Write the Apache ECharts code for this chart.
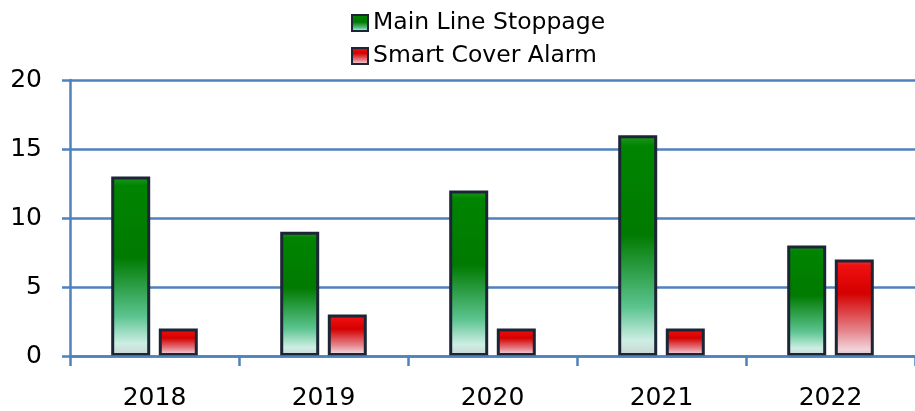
<!DOCTYPE html>
<html>
<head>
<meta charset="utf-8">
<script src="https://cdn.jsdelivr.net/npm/echarts@6/dist/echarts.min.js"></script>
<style>
html,body{margin:0;padding:0;background:#fff;}
#chart{width:915px;height:411px;}
</style>
</head>
<body>
<div id="chart"></div>
<script>
const categories = ['2018', '2019', '2020', '2021', '2022'];
const seriesNames = ['Main Line Stoppage', 'Smart Cover Alarm'];
const mainLineStoppage = [13, 9, 12, 16, 8];
const smartCoverAlarm = [2, 3, 2, 2, 7];
const yTicks = [0, 5, 10, 15, 20];

const axisBlue = '#4f81bd';
const borderDark = '#1c2535';

function grad(stops) {
  return {
    type: 'linear', x: 0, y: 0, x2: 0, y2: 1,
    colorStops: stops.map(s => ({ offset: s[0], color: s[1] }))
  };
}
const greenFill = grad([[0, '#1f9a1f'], [0.05, '#008400'], [0.45, '#007a00'], [0.78, '#5cc490'], [0.93, '#cdeee4'], [1, '#c8d4d0']]);
const redFill = grad([[0, '#ff4040'], [0.06, '#f01010'], [0.35, '#d40000'], [0.75, '#e68890'], [0.93, '#f2d2d8'], [1, '#d8c4c8']]);

const chart = echarts.init(document.getElementById('chart'), null, { renderer: 'canvas' });
chart.setOption({
  animation: false,
  backgroundColor: '#ffffff',
  legend: {
    orient: 'vertical',
    left: 346,
    top: 6,
    itemWidth: 16,
    itemHeight: 16,
    itemGap: 9,
    icon: 'rect',
    textStyle: { fontFamily: 'DejaVu Sans', fontSize: 23.5, color: '#000', lineHeight: 23 },
    itemStyle: { borderWidth: 2, borderColor: borderDark },
    data: seriesNames
  },
  grid: { left: 70, width: 849, top: 80, bottom: 55, containLabel: false },
  xAxis: {
    type: 'category',
    data: categories,
    axisLine: { show: true, lineStyle: { color: axisBlue, width: 2.5 } },
    axisTick: { show: true, length: 10, lineStyle: { color: axisBlue, width: 2.5 } },
    axisLabel: { fontFamily: 'DejaVu Sans', fontSize: 25, color: '#000', margin: 30 },
    z: 5
  },
  yAxis: {
    type: 'value',
    min: yTicks[0],
    max: yTicks[yTicks.length - 1],
    interval: yTicks[1] - yTicks[0],
    axisLine: { show: true, lineStyle: { color: axisBlue, width: 2.5 } },
    axisTick: { show: true, length: 8, lineStyle: { color: axisBlue, width: 2.5 } },
    splitLine: { show: true, lineStyle: { color: axisBlue, width: 2.5 } },
    axisLabel: { fontFamily: 'DejaVu Sans', fontSize: 25, color: '#000', margin: 28 }
  },
  series: [
    {
      name: seriesNames[0],
      type: 'bar',
      data: mainLineStoppage,
      barWidth: 39,
      barGap: '22%',
      itemStyle: { color: greenFill, borderColor: borderDark, borderWidth: 3 }
    },
    {
      name: seriesNames[1],
      type: 'bar',
      data: smartCoverAlarm,
      barWidth: 39,
      barGap: '22%',
      itemStyle: { color: redFill, borderColor: borderDark, borderWidth: 3 }
    }
  ]
});
</script>
</body>
</html>
